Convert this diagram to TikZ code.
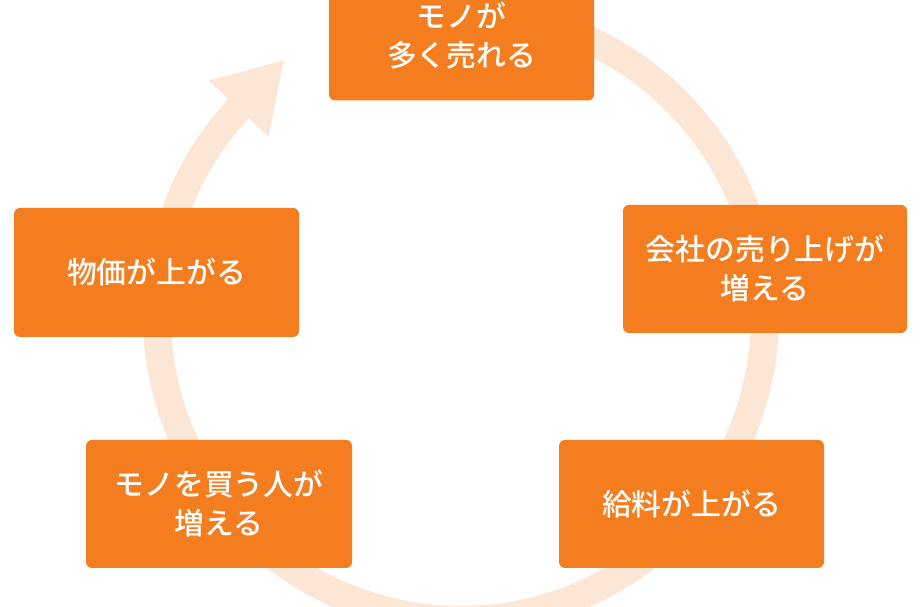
\documentclass[tikz,border=0pt]{standalone}
\usepackage{fontspec}
\newfontfamily\jpfont{Noto Sans CJK JP}[UprightFont={* Medium}]
\usetikzlibrary{arrows.meta}
\definecolor{boxorange}{HTML}{F47D20}
\definecolor{ringpeach}{HTML}{FCE6D6}
\begin{document}
\begin{tikzpicture}[
        x=1pt, y=1pt,
        thick,
        font=\jpfont\fontsize{29.8pt}{39pt}\selectfont
    ]
    \tikzset{
        stepbox/.style = {rectangle, rounded corners=6pt, fill=boxorange, text=white,
                          align=center, inner sep=0pt, minimum height=128pt},
        ring/.style = {line width=28pt, draw=ringpeach,
                       -{Triangle[length=67pt, width=77pt]}},
    }
    \useasboundingbox (0,0) rectangle (921,607);
    \coordinate (o) at (461,291);
    %
    \draw[ring] (o) ++(80:304) arc[start angle=80, end angle=-223, radius=304]
        -- ++(47:67);
    %
    \node[stepbox, minimum width=265pt, minimum height=129pt] at (461.5,571) (sold) {モノが\\多く売れる};
    \node[stepbox, minimum width=284pt] at (765,338) (sales) {会社の売り上げが\\増える};
    \node[stepbox, minimum width=265pt] at (691.5,103) (wage) {給料が上がる};
    \node[stepbox, minimum width=266pt] at (219,103) (buyers) {モノを買う人が\\増える};
    \node[stepbox, minimum width=285pt, minimum height=129pt] at (156.5,334.5) (price) {物価が上がる};
\end{tikzpicture}
\end{document}
